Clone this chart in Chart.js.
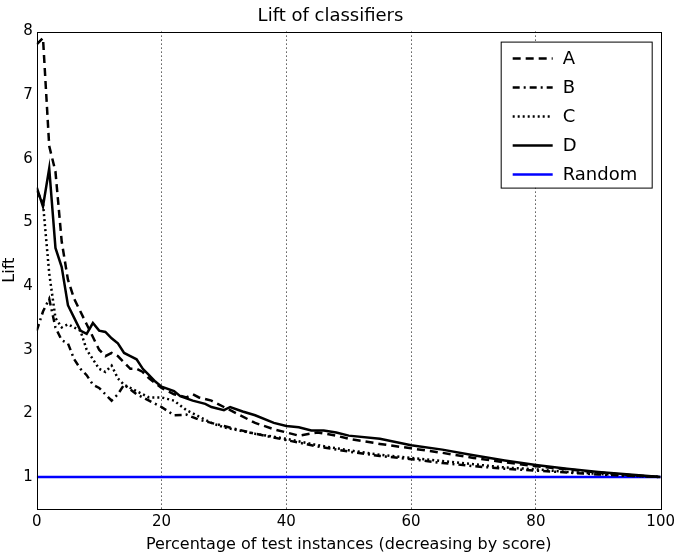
<!DOCTYPE html>
<html><head><meta charset="utf-8">
<script src="https://cdn.jsdelivr.net/npm/chart.js@4/dist/chart.umd.min.js"></script>
<style>body{margin:0;background:#fff}#wrap{width:679px;height:558px}</style>
</head><body><div id="wrap"><canvas id="c"></canvas></div>
<script>
// values
const xA = [0,1,2,3,4,5,6,7,8,9,10,11,12,13,14,15,16,17,18,20,22,24,25,26,28,30,32,35,38,40,42,45,48,50,55,60,65,70,75,80,85,90,95,100];
const yA = [7.8,7.9,6.2,5.8,4.7,4.1,3.8,3.6,3.4,3.2,3.0,2.9,2.95,2.9,2.8,2.7,2.7,2.65,2.55,2.4,2.3,2.25,2.3,2.25,2.2,2.1,2.0,1.85,1.75,1.7,1.65,1.7,1.65,1.6,1.52,1.45,1.38,1.3,1.23,1.17,1.12,1.07,1.03,1.0];
const xB = [0,1,2,3,4,5,6,7,8,9,10,11,12,13,14,16,18,20,22,24,26,28,30,35,40,45,50,55,60,65,70,75,80,85,90,95,100];
const yB = [3.3,3.6,3.8,3.35,3.15,3.1,2.85,2.7,2.6,2.45,2.4,2.3,2.2,2.3,2.45,2.3,2.2,2.1,1.97,1.98,1.9,1.85,1.8,1.68,1.58,1.48,1.4,1.33,1.28,1.22,1.17,1.13,1.1,1.07,1.04,1.02,1.0];
const xC = [0,1,2,3,4,5,6,7,8,9,10,11,12,13,14,15,16,17,18,20,22,24,26,28,30,35,40,45,50,55,60,65,70,75,80,85,90,95,100];
const yC = [5.5,5.3,4.2,3.5,3.35,3.4,3.35,3.3,3.0,2.85,2.7,2.65,2.75,2.55,2.45,2.4,2.35,2.3,2.25,2.25,2.2,2.05,1.95,1.85,1.78,1.68,1.6,1.5,1.42,1.35,1.3,1.25,1.2,1.15,1.12,1.08,1.05,1.02,1.0];
const xD = [0,1,2,3,4,5,6,7,8,9,10,11,12,13,14,15,16,17,18,19,20,22,23,25,27,28,30,31,33,35,38,40,42,44,46,48,50,55,60,65,70,75,80,85,90,95,100];
const yD = [5.55,5.25,5.85,4.6,4.3,3.7,3.5,3.3,3.25,3.42,3.3,3.28,3.18,3.1,2.95,2.9,2.85,2.7,2.6,2.5,2.42,2.35,2.27,2.2,2.15,2.1,2.05,2.1,2.03,1.97,1.85,1.8,1.78,1.73,1.73,1.7,1.65,1.6,1.5,1.43,1.34,1.26,1.19,1.13,1.08,1.04,1.0];
const xR = [0,100];
const yR = [1,1];

function pts(xs, ys) { return xs.map((x,i) => ({x: x, y: ys[i]})); }
function ds(label, data, color, dash, width) {
  return { label, data, borderColor: color, borderDash: dash, borderWidth: width,
           pointRadius: 0, tension: 0, fill: false };
}

const datasets = [
  ds("A", pts(xA,yA), "#000", [8,5], 2.5),
  ds("B", pts(xB,yB), "#000", [7,4,2,4], 2.5),
  ds("C", pts(xC,yC), "#000", [2,3], 2.5),
  ds("D", pts(xD,yD), "#000", [], 2.5),
  ds("Random", pts(xR,yR), "#0000ff", [], 2.5)
];

// frame around plot + legend box inside top right
const boxLegend = {
  id: "boxLegend",
  afterDraw(chart) {
    const ctx = chart.ctx, a = chart.chartArea;
    ctx.save();
    ctx.strokeStyle = "#000"; ctx.lineWidth = 1; ctx.setLineDash([]);
    ctx.strokeRect(Math.round(a.left) + 0.5, Math.round(a.top) + 0.5,
                   Math.round(a.right - a.left), Math.round(a.bottom - a.top));
    const w = 151, h = 146, x0 = a.right - w - 9, y0 = a.top + 10;
    ctx.fillStyle = "#fff"; ctx.fillRect(x0, y0, w, h);
    ctx.strokeRect(x0 + 0.5, y0 + 0.5, w, h);
    ctx.font = "18px 'DejaVu Sans'"; ctx.textBaseline = "middle"; ctx.fillStyle = "#000";
    chart.data.datasets.forEach((d, i) => {
      const y = y0 + 17 + i * 29;
      ctx.strokeStyle = d.borderColor; ctx.lineWidth = d.borderWidth;
      ctx.setLineDash(d.borderDash);
      ctx.beginPath(); ctx.moveTo(x0 + 12, y); ctx.lineTo(x0 + 52, y); ctx.stroke();
      ctx.fillText(d.label, x0 + 62, y + 1);
    });
    ctx.restore();
  }
};

new Chart(document.getElementById("c"), {
  type: "line",
  data: { datasets },
  plugins: [boxLegend],
  options: {
    responsive: true, maintainAspectRatio: false, animation: false,
    layout: { padding: { left: 0, right: 18, top: 0, bottom: 0 } },
    plugins: {
      legend: { display: false }, tooltip: { enabled: false },
      title: { display: true, text: "Lift of classifiers", color: "#000",
               font: { family: "DejaVu Sans", size: 18, weight: "normal" }, padding: { top: 6, bottom: 4 } }
    },
    scales: {
      x: {
        type: "linear", min: 0, max: 100,
        ticks: { stepSize: 20, color: "#000", padding: 4, font: { family: "DejaVu Sans", size: 15 } },
        grid: { color: "#000", lineWidth: c => (c.tick.value === 0 || c.tick.value === 100) ? 0 : 1,
                drawTicks: false },
        border: { display: false, dash: [1,3] },
        title: { display: true, text: "Percentage of test instances (decreasing by score)", color: "#000",
                 font: { family: "DejaVu Sans", size: 16 }, padding: { top: 0 } }
      },
      y: {
        min: 0.5, max: 8,
        afterBuildTicks: s => { s.ticks = [1,2,3,4,5,6,7,8].map(v => ({ value: v })); },
        ticks: { color: "#000", padding: 4, font: { family: "DejaVu Sans", size: 15 } },
        grid: { display: false, drawTicks: false },
        border: { display: false },
        title: { display: true, text: "Lift", color: "#000", padding: 0, font: { family: "DejaVu Sans", size: 16 } }
      }
    }
  }
});
</script></body></html>
